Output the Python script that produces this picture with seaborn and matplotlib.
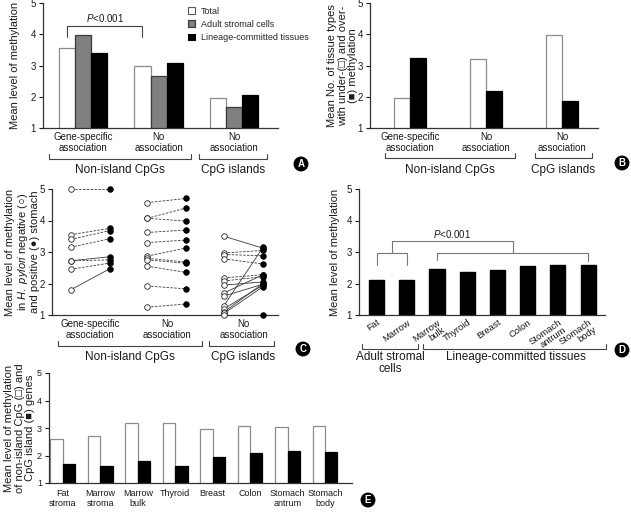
import matplotlib
matplotlib.use("Agg")
import matplotlib.pyplot as plt
from matplotlib.lines import Line2D
from matplotlib.patches import Patch
import seaborn as sns
import pandas as pd

# ---------------- data ----------------
group_labels = ["Gene-specific\nassociation", "No\nassociation", "No\nassociation"]
group_keys = ["gs", "na_non", "na_isl"]

# Panel A
a_series = ["Total", "Adult stromal cells", "Lineage-committed tissues"]
a_total = [3.55, 3.00, 1.95]
a_stromal = [3.97, 2.67, 1.67]
a_lineage = [3.40, 3.08, 2.05]

# Panel B
b_series = ["under", "over"]
b_under = [1.95, 3.22, 3.97]
b_over = [3.25, 2.20, 1.88]

# Panel C (paired H. pylori negative -> positive)
c_gs_neg = [5.00, 3.55, 3.40, 3.15, 2.72, 2.72, 2.45, 1.80]
c_gs_pos = [5.00, 3.75, 3.68, 3.42, 2.85, 2.75, 2.65, 2.47]
c_gs_dashed = [1, 1, 1, 1, 0, 1, 1, 0]
c_na_neg = [4.57, 4.07, 4.07, 3.62, 3.30, 2.87, 2.80, 2.75, 2.55, 1.92, 1.25]
c_na_pos = [4.70, 4.40, 3.98, 3.70, 3.38, 3.13, 2.68, 2.64, 2.35, 1.83, 1.35]
c_na_dashed = [1, 1, 1, 1, 1, 1, 1, 1, 1, 1, 1]
c_ci_neg = [3.50, 2.97, 2.92, 2.78, 2.18, 2.08, 1.95, 1.70, 1.60, 1.30, 1.20, 1.10, 1.05, 1.00]
c_ci_pos = [3.12, 3.05, 2.88, 2.62, 2.28, 2.22, 2.05, 2.28, 1.98, 3.15, 1.95, 2.00, 1.90, 1.00]
c_ci_dashed = [0, 1, 1, 1, 1, 1, 0, 0, 0, 0, 0, 0, 0, 0]

# Panel D
d_tissues = ["Fat", "Marrow", "Marrow\nbulk", "Thyroid", "Breast", "Colon",
             "Stomach\nantrum", "Stomach\nbody"]
d_values = [2.11, 2.11, 2.46, 2.36, 2.44, 2.56, 2.58, 2.60]

# Panel E
e_tissues = ["Fat\nstroma", "Marrow\nstroma", "Marrow\nbulk", "Thyroid", "Breast",
             "Colon", "Stomach\nantrum", "Stomach\nbody"]
e_nonisland = [2.59, 2.71, 3.19, 3.17, 2.95, 3.07, 3.03, 3.07]
e_island = [1.69, 1.62, 1.80, 1.62, 1.93, 2.08, 2.17, 2.14]

# ---------------- style ----------------
sns.set_theme(style="ticks")
plt.rcParams["font.family"] = ["Liberation Sans", "DejaVu Sans"]
plt.rcParams["mathtext.fontset"] = "custom"
plt.rcParams["mathtext.it"] = "Liberation Sans:italic"
plt.rcParams["mathtext.rm"] = "Liberation Sans"

W, H = 631, 512
fig = plt.figure(figsize=(W / 100, H / 100), dpi=100)
LINE = "#444444"
TXT = "#1a1a1a"


def add_ax(l, t, r, b):
    return fig.add_axes([l / W, 1 - b / H, (r - l) / W, (b - t) / H])


def style(ax, ylabel, label_right_px):
    # label_right_px: pixel distance from the y axis to the right edge of the label
    sns.despine(ax=ax)
    ax.set_ylim(1, 5)
    ax.set_yticks([1, 2, 3, 4, 5])
    ax.tick_params(axis="y", length=3, width=0.8, labelsize=7, pad=2, colors=TXT)
    ax.tick_params(axis="x", length=0, labelsize=7, pad=3, colors=TXT)
    for s in ["left", "bottom"]:
        ax.spines[s].set_linewidth(0.9)
        ax.spines[s].set_color("#333333")
    ax.set_xlabel("")
    ax.set_ylabel(ylabel, fontsize=8, color=TXT, linespacing=1.05)
    width_px = ax.get_position().width * W
    ax.yaxis.set_label_coords(-label_right_px / width_px, 0.5)


def under_bracket(x0, x1, y, label, ly, lx=None):
    fig.add_artist(Line2D([x0 / W, x0 / W, x1 / W, x1 / W],
                          [1 - (y - 5) / H, 1 - y / H, 1 - y / H, 1 - (y - 5) / H],
                          color=LINE, lw=0.8))
    lx = (x0 + x1) / 2 if lx is None else lx
    fig.text(lx / W, 1 - ly / H, label, fontsize=8.5, ha="center", va="center",
             color=TXT, linespacing=1.0)


def badge(x, y, letter):
    fig.text(x / W, 1 - y / H, letter, fontsize=7, fontweight="bold", color="white",
             ha="center", va="center",
             bbox=dict(boxstyle="circle,pad=0.18", fc="black", ec="black"))


def color_edges(ax, edges):
    for cont, ec in zip(ax.containers, edges):
        for p in cont:
            p.set_edgecolor(ec)
            p.set_linewidth(0.9)


# ---------------- Panel A ----------------
axA = add_ax(43, 3, 278, 128)
dfA = pd.DataFrame({
    "group": group_keys * 3,
    "series": sum([[s] * 3 for s in a_series], []),
    "value": a_total + a_stromal + a_lineage,
})
sns.barplot(data=dfA, x="group", y="value", hue="series", order=group_keys,
            hue_order=a_series, palette=["white", "#808080", "black"],
            width=0.64, legend=False, ax=axA)
color_edges(axA, ["#8c8c8c", "#3a3a3a", "black"])
axA.set_xlim(-0.53, 2.58)
axA.set_xticks(range(3))
axA.set_xticklabels(group_labels, linespacing=1.1)
style(axA, "Mean level of methylation", 23)
bw = 0.64 / 3
axA.plot([-bw, -bw, 1 - bw, 1 - bw], [3.91, 4.26, 4.26, 3.91], color=LINE, lw=0.8)
axA.text(0.29, 4.52, r"$\it{P}$<0.001", fontsize=7, ha="center", va="center", color=TXT)
axA.legend(handles=[Patch(fc="white", ec="#555555", lw=0.8),
                    Patch(fc="#808080", ec="#333333", lw=0.8),
                    Patch(fc="black", ec="black", lw=0.8)],
           labels=a_series, loc="upper left", bbox_to_anchor=(188 / W, 1 - 7 / H),
           bbox_transform=fig.transFigure, frameon=False, fontsize=6.5,
           handlelength=0.8, handleheight=0.8, handletextpad=0.6,
           labelspacing=0.45, borderpad=0, borderaxespad=0)
under_bracket(49, 191, 159, "Non-island CpGs", 170)
under_bracket(199, 267, 159, "CpG islands", 170)
badge(301, 164, "A")

# ---------------- Panel B ----------------
axB = add_ax(370, 3, 598, 128)
dfB = pd.DataFrame({
    "group": group_keys * 2,
    "series": ["under"] * 3 + ["over"] * 3,
    "value": b_under + b_over,
})
sns.barplot(data=dfB, x="group", y="value", hue="series", order=group_keys,
            hue_order=b_series, palette=["white", "black"], width=0.42,
            legend=False, ax=axB)
color_edges(axB, ["#8c8c8c", "black"])
axB.set_xlim(-0.53, 2.47)
axB.set_xticks(range(3))
axB.set_xticklabels(group_labels, linespacing=1.1)
style(axB, "Mean No. of tissue types\nwith under-(\u25a1) and over-\n(\u25a0) methylation", 12)
under_bracket(385, 515, 158, "Non-island CpGs", 170)
under_bracket(535, 592, 158, "CpG islands", 170)
badge(622, 163, "B")

# ---------------- Panel C ----------------
axC = add_ax(52, 189, 278, 315)
off = 0.255
pairs = [(c_gs_neg, c_gs_pos, c_gs_dashed), (c_na_neg, c_na_pos, c_na_dashed),
         (c_ci_neg, c_ci_pos, c_ci_dashed)]
rows = []
for g, (neg, pos, dashed) in enumerate(pairs):
    for n, p, d in zip(neg, pos, dashed):
        axC.plot([g - off, g + off], [n, p], color="#3a3a3a", lw=0.6,
                 ls=(0, (3, 1.6)) if d else "-", clip_on=False, zorder=1)
        rows.append({"x": g - off, "y": n, "status": "negative"})
        rows.append({"x": g + off, "y": p, "status": "positive"})
dfC = pd.DataFrame(rows)
sns.scatterplot(data=dfC[dfC.status == "negative"], x="x", y="y", color="white",
                edgecolor="#222222", linewidth=0.6, s=16, ax=axC, clip_on=False, zorder=3)
sns.scatterplot(data=dfC[dfC.status == "positive"], x="x", y="y", color="black",
                edgecolor="black", linewidth=0.6, s=16, ax=axC, clip_on=False, zorder=3)
axC.set_xlim(-0.5, 2.45)
axC.set_xticks(range(3))
axC.set_xticklabels(group_labels, linespacing=1.1)
style(axC, "Mean level of methylation\nin $\\it{H.\\ pylori}$ negative (\u25cb)\nand positive (\u25cf) stomach", 12)
under_bracket(58, 202, 346, "Non-island CpGs", 357, lx=130)
under_bracket(209, 274, 346, "CpG islands", 357, lx=243)
badge(303, 349, "C")

# ---------------- Panel D ----------------
axD = add_ax(359, 189, 605, 315)
dfD = pd.DataFrame({"tissue": [t.replace("\n", " ") for t in d_tissues], "value": d_values})
sns.barplot(data=dfD, x="tissue", y="value", color="black", width=0.5,
            edgecolor="black", saturation=1, ax=axD)
axD.set_xlim(-0.58, 7.56)
axD.set_xticks(range(len(d_tissues)))
axD.set_xticklabels(d_tissues, rotation=35, ha="right", rotation_mode="anchor",
                    linespacing=0.95)
style(axD, "Mean level of methylation", 19)
axD.tick_params(axis="x", pad=2, labelsize=6.8)
axD.plot([0, 0, 1, 1], [2.59, 2.98, 2.98, 2.59], color="#777777", lw=0.8)
axD.plot([2, 2, 7, 7], [2.75, 2.98, 2.98, 2.72], color="#777777", lw=0.8)
axD.plot([0.5, 0.5, 4.5, 4.5], [2.98, 3.36, 3.36, 2.98], color="#777777", lw=0.8)
axD.text(2.5, 3.57, r"$\it{P}$<0.001", fontsize=7, ha="center", va="center", color=TXT)
under_bracket(362, 418, 349, "Adult stromal\ncells", 363)
under_bracket(423, 606, 349, "Lineage-committed tissues", 357, lx=516)
badge(622, 350, "D")

# ---------------- Panel E ----------------
axE = add_ax(49, 373, 352, 483)
e_keys = [t.replace("\n", " ") for t in e_tissues]
dfE = pd.DataFrame({
    "tissue": e_keys * 2,
    "series": ["non-island"] * 8 + ["island"] * 8,
    "value": e_nonisland + e_island,
})
sns.barplot(data=dfE, x="tissue", y="value", hue="series", order=e_keys,
            hue_order=["non-island", "island"], palette=["white", "black"],
            width=0.66, legend=False, ax=axE)
color_edges(axE, ["#8c8c8c", "black"])
axE.set_xlim(-0.37, 7.72)
axE.set_xticks(range(8))
axE.set_xticklabels(e_tissues, linespacing=1.25)
style(axE, "Mean level of methylation\nof non-island CpG (\u25a1) and\nCpG island (\u25a0) genes", 14)
axE.tick_params(axis="y", labelsize=6.5)
axE.tick_params(axis="x", labelsize=6.5, pad=4)
badge(368, 500, "E")

fig.savefig("out.png", dpi=100)
